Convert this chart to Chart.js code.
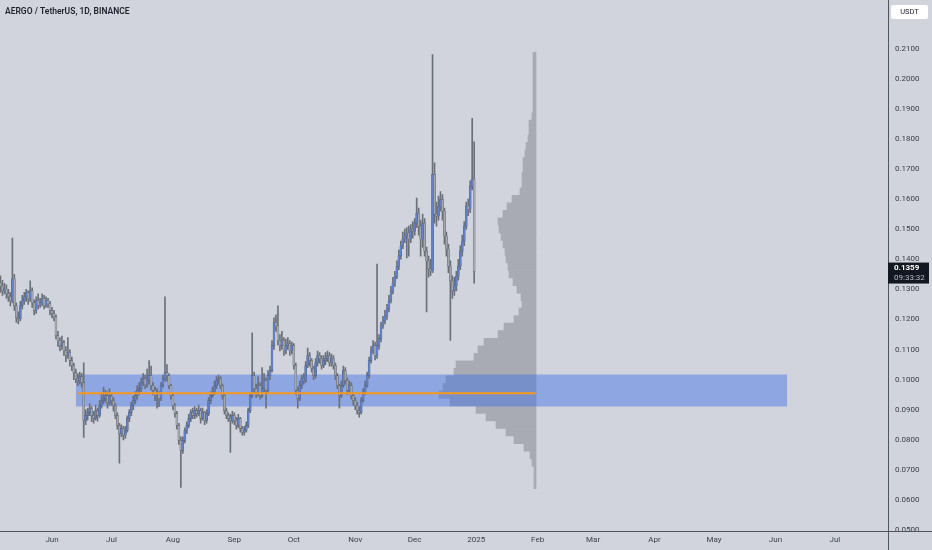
<!DOCTYPE html>
<html>
<head>
<meta charset="utf-8">
<script src="https://cdn.jsdelivr.net/npm/chart.js@4.4.1/dist/chart.umd.min.js"></script>
<style>
  html, body { margin: 0; padding: 0; background: #d1d4dc; }
  #wrap { width: 932px; height: 550px; }
</style>
</head>
<body>
<div id="wrap"><canvas id="myChart"></canvas></div>
<script>
// AERGO/USDT daily candles, first candle 2024-05-06
const startDate = '2024-05-06';
const firstOpen = 0.1320;
const closes = [
  .1311,.1295,.1301,.1285,.1275,.1262,.1335,.1245,.1205,.1202,
  .1245,.1262,.1275,.1288,.1268,.1295,.1255,.1229,.1262,.1248,
  .1255,.1268,.1245,.1262,.1252,.1229,.1219,.1209,.1146,.1129,
  .1113,.1123,.1096,.1080,.1090,.1063,.1047,.1023,.1003,.0997,
  .1010,.0990,.0864,.0881,.0891,.0904,.0881,.0871,.0897,.0881,
  .0914,.0930,.0937,.0947,.0924,.0944,.0930,.0914,.0881,.0848,
  .0821,.0838,.0815,.0831,.0871,.0891,.0914,.0930,.0947,.0964,
  .0970,.0990,.1003,.0983,.0997,.1013,.0980,.0964,.0947,.0954,
  .0937,.0980,.1003,.1023,.1013,.0980,.0947,.0914,.0887,.0848,
  .0798,.0765,.0798,.0831,.0848,.0871,.0891,.0881,.0897,.0887,
  .0897,.0871,.0891,.0864,.0887,.0930,.0947,.0957,.0980,.0997,
  .1003,.0980,.0947,.0897,.0881,.0871,.0864,.0881,.0864,.0848,
  .0871,.0838,.0825,.0831,.0848,.0897,.0947,.1013,.0970,.0957,
  .0980,.0947,.0970,.0997,.0964,.1013,.1030,.1113,.1189,.1179,
  .1129,.1113,.1129,.1096,.1113,.1119,.1096,.1113,.1047,.0964,
  .0937,.0980,.1003,.0997,.1047,.1080,.1063,.1037,.1013,.1056,
  .1080,.1070,.1047,.1063,.1070,.1080,.1056,.1070,.1047,.1013,
  .0980,.0947,.0980,.1030,.0997,.0964,.0980,.0947,.0930,.0914,
  .0897,.0891,.0930,.0957,.0980,.1013,.1063,.1096,.1113,.1080,
  .1113,.1136,.1179,.1195,.1212,.1235,.1262,.1295,.1321,.1344,
  .1377,.1411,.1444,.1467,.1477,.1487,.1467,.1500,.1493,.1520,
  .1553,.1510,.1467,.1520,.1427,.1394,.1368,.1361,.1682,.1550,
  .1543,.1576,.1599,.1560,.1477,.1434,.1377,.1328,.1295,.1311,
  .1344,.1377,.1427,.1460,.1510,.1576,.1566,.1642,.1666,.1359
];
const highs = [
  .1345,.1330,.1320,.1315,.1300,.1290,.1470,.1350,.1255,.1225,
  .1260,.1280,.1290,.1300,.1295,.1328,.1305,.1265,.1275,.1285,
  .1270,.1285,.1280,.1275,.1270,.1260,.1240,.1230,.1215,.1160,
  .1140,.1145,.1130,.1110,.1140,.1100,.1075,.1055,.1035,.1020,
  .1025,.1020,.1056,.0900,.0905,.0920,.0910,.0895,.0915,.0905,
  .0930,.0955,.0975,.0965,.0960,.0970,.0955,.0940,.0920,.0890,
  .0855,.0850,.0845,.0845,.0880,.0900,.0925,.0945,.0960,.0980,
  .0990,.1005,.1020,.1015,.1035,.1063,.1045,.0990,.0975,.0970,
  .0960,.0990,.1015,.1275,.1050,.1020,.0985,.0955,.0920,.0895,
  .0855,.0810,.0810,.0840,.0860,.0885,.0900,.0905,.0910,.0905,
  .0915,.0905,.0905,.0895,.0900,.0940,.0960,.0975,.0995,.1010,
  .1015,.1010,.0985,.0950,.0905,.0890,.0885,.0895,.0890,.0875,
  .0885,.0875,.0845,.0845,.0860,.0905,.0955,.1155,.1025,.0985,
  .1010,.0990,.1040,.1020,.1005,.1030,.1045,.1130,.1205,.1215,
  .1245,.1150,.1160,.1140,.1135,.1140,.1130,.1125,.1120,.1055,
  .0975,.0995,.1015,.1020,.1060,.1105,.1090,.1070,.1045,.1070,
  .1095,.1090,.1080,.1080,.1090,.1095,.1090,.1085,.1080,.1055,
  .1020,.0985,.0995,.1045,.1040,.1005,.0995,.0990,.0955,.0940,
  .0925,.0910,.0940,.0970,.0995,.1025,.1075,.1110,.1130,.1125,
  .1384,.1150,.1190,.1210,.1230,.1250,.1280,.1310,.1340,.1360,
  .1395,.1430,.1460,.1490,.1500,.1505,.1510,.1515,.1525,.1535,
  .1603,.1570,.1530,.1550,.1535,.1440,.1410,.1400,.2080,.1720,
  .1590,.1610,.1625,.1615,.1570,.1490,.1450,.1395,.1345,.1340,
  .1360,.1400,.1445,.1480,.1525,.1590,.1600,.1660,.1868,.1790
];
const lows = [
  .1290,.1280,.1285,.1270,.1260,.1245,.1255,.1230,.1190,.1185,
  .1195,.1235,.1250,.1260,.1250,.1260,.1240,.1215,.1220,.1235,
  .1240,.1245,.1235,.1240,.1240,.1215,.1205,.1195,.1135,.1110,
  .1095,.1100,.1080,.1060,.1070,.1045,.1030,.1000,.0990,.0980,
  .0985,.0975,.0808,.0850,.0865,.0880,.0860,.0855,.0865,.0862,
  .0875,.0905,.0920,.0925,.0905,.0915,.0915,.0895,.0870,.0835,
  .0722,.0810,.0800,.0805,.0825,.0860,.0880,.0900,.0920,.0935,
  .0950,.0960,.0980,.0970,.0975,.0985,.0965,.0950,.0930,.0905,
  .0910,.0930,.0975,.0995,.0995,.0970,.0935,.0900,.0875,.0835,
  .0785,.0642,.0755,.0790,.0820,.0840,.0860,.0870,.0870,.0875,
  .0880,.0855,.0865,.0850,.0855,.0880,.0920,.0940,.0950,.0970,
  .0985,.0970,.0935,.0885,.0870,.0860,.0758,.0855,.0850,.0835,
  .0840,.0825,.0815,.0815,.0825,.0840,.0890,.0940,.0955,.0940,
  .0945,.0935,.0940,.0960,.0905,.0955,.1000,.1025,.1100,.1160,
  .1115,.1095,.1100,.1080,.1085,.1100,.1080,.1085,.1035,.0950,
  .0905,.0930,.0970,.0985,.0990,.1040,.1045,.1025,.1000,.1005,
  .1045,.1055,.1035,.1040,.1050,.1060,.1045,.1045,.1035,.1000,
  .0970,.0905,.0940,.0975,.0985,.0950,.0955,.0935,.0915,.0900,
  .0885,.0875,.0885,.0925,.0950,.0975,.1005,.1055,.1085,.1065,
  .1070,.1100,.1125,.1170,.1185,.1200,.1225,.1255,.1285,.1310,
  .1335,.1365,.1400,.1435,.1455,.1404,.1410,.1455,.1470,.1480,
  .1505,.1480,.1410,.1440,.1410,.1225,.1340,.1345,.1355,.1520,
  .1510,.1530,.1560,.1530,.1450,.1410,.1355,.1130,.1270,.1280,
  .1295,.1330,.1365,.1410,.1445,.1500,.1545,.1555,.1630,.1320
];

// volume profile rows (price, relative volume)
const profilePrices = [
  .2075,.2050,.2025,.2000,.1975,.1950,.1925,.1900,.1875,.1850,
  .1825,.1800,.1775,.1750,.1725,.1700,.1675,.1650,.1625,.1600,
  .1575,.1550,.1525,.1500,.1475,.1450,.1425,.1400,.1375,.1350,
  .1325,.1300,.1275,.1250,.1225,.1200,.1175,.1150,.1125,.1100,
  .1075,.1050,.1025,.1000,.0975,.0950,.0925,.0900,.0875,.0850,
  .0825,.0800,.0775,.0750,.0725,.0700,.0675,.0650
];
const profileVolumes = [
  3,3,3,3,3,3,3,3,4,7,
  7,8,10,11,13,13,14,14,16,24,
  29,33,38,37,35,33,31,30,28,27,
  23,19,15,14,17,22,32,38,52,58,
  62,80,82,90,93,97,86,60,50,40,
  30,22,12,6,4,2,2,2
];

// drawings
const zoneTop = 0.1017;
const zoneBottom = 0.0911;
const zoneDates = ['2024-06-13', '2025-06-07'];
const pocPrice = 0.0955;
const pocDates = ['2024-06-14', '2025-01-31'];

// axes
const monthTicks = ['2024-06-01','2024-07-01','2024-08-01','2024-09-01','2024-10-01','2024-11-01','2024-12-01',
  '2025-01-01','2025-02-01','2025-03-01','2025-04-01','2025-05-01','2025-06-01','2025-07-01'];
const monthLabels = ['Jun','Jul','Aug','Sep','Oct','Nov','Dec','2025','Feb','Mar','Apr','May','Jun','Jul'];
const priceTicks = [0.05,0.06,0.07,0.08,0.09,0.10,0.11,0.12,0.13,0.14,0.15,0.16,0.17,0.18,0.19,0.20,0.21];
const countdown = '09:33:32';

const FONT = 'Roboto, "Noto Sans", sans-serif';
const origin = Date.parse('2024-05-05');
const dayIdx = s => (Date.parse(s) - origin) / 864e5;

const x0 = dayIdx(startDate);
const opens = [firstOpen].concat(closes.slice(0, -1));
const bodyData = closes.map((c, i) => ({ x: x0 + i, y: [opens[i], c] }));
const wickData = closes.map((c, i) => ({ x: x0 + i, y: [lows[i], highs[i]] }));
const bodyColors = closes.map((c, i) => c >= opens[i] ? '#5f82d0' : '#a4a7ae');

const overlay = {
  id: 'overlay',
  beforeDraw(chart) {
    const ctx = chart.ctx;
    ctx.save();
    ctx.fillStyle = '#d1d4dc';
    ctx.fillRect(0, 0, chart.width, chart.height);
    ctx.restore();
  },
  afterDraw(chart) {
    const { ctx, chartArea, scales } = chart;
    ctx.save();
    // axis separators
    ctx.strokeStyle = '#50545d';
    ctx.lineWidth = 1;
    ctx.beginPath();
    ctx.moveTo(0, chartArea.bottom + 0.5);
    ctx.lineTo(chart.width, chartArea.bottom + 0.5);
    ctx.moveTo(chartArea.right + 0.5, 0);
    ctx.lineTo(chartArea.right + 0.5, chart.height);
    ctx.stroke();

    // title
    ctx.fillStyle = '#1e222d';
    ctx.font = '600 8.5px ' + FONT;
    ctx.textBaseline = 'middle';
    ctx.textAlign = 'left';
    ctx.fillText('AERGO / TetherUS, 1D, BINANCE', 5, 12);

    // currency box
    ctx.fillStyle = '#ffffff';
    ctx.beginPath();
    ctx.roundRect(891, 5, 37, 14, 2);
    ctx.fill();
    ctx.fillStyle = '#1e222d';
    ctx.font = '7.5px ' + FONT;
    ctx.textAlign = 'center';
    ctx.fillText('USDT', 909.5, 12.5);

    // last price label
    const last = closes[closes.length - 1];
    const y = scales.y.getPixelForValue(last);
    ctx.fillStyle = '#131722';
    ctx.fillRect(chartArea.right, y - 9, 41, 21);
    ctx.textAlign = 'left';
    ctx.fillStyle = '#ffffff';
    ctx.font = 'bold 8px ' + FONT;
    ctx.fillText(last.toFixed(4), chartArea.right + 6, y - 3.5);
    ctx.fillStyle = '#b8bcc6';
    ctx.font = '8px ' + FONT;
    ctx.fillText(countdown, chartArea.right + 6, y + 6.5);
    ctx.restore();
  }
};

const ctx = document.getElementById('myChart').getContext('2d');
const myChart = new Chart(ctx, {
  type: 'bar',
  data: {
    datasets: [
      {
        type: 'bar',
        indexAxis: 'y',
        xAxisID: 'xv',
        yAxisID: 'yv',
        data: profilePrices.map((p, k) => ({ x: profileVolumes[k], y: p })),
        backgroundColor: '#a8abb3',
        barPercentage: 1,
        categoryPercentage: 1,
        grouped: false,
        order: 7
      },
      {
        type: 'line',
        data: [{ x: dayIdx(zoneDates[0]), y: zoneTop }, { x: dayIdx(zoneDates[1]), y: zoneTop }],
        borderColor: 'rgba(0,0,0,0)',
        pointRadius: 0,
        fill: false,
        order: 6
      },
      {
        type: 'line',
        data: [{ x: dayIdx(zoneDates[0]), y: zoneBottom }, { x: dayIdx(zoneDates[1]), y: zoneBottom }],
        borderColor: 'rgba(0,0,0,0)',
        backgroundColor: 'rgba(60,110,230,0.45)',
        pointRadius: 0,
        fill: '-1',
        order: 5
      },
      {
        type: 'bar',
        data: wickData,
        backgroundColor: '#6b707b',
        barThickness: 1,
        grouped: false,
        borderSkipped: false,
        order: 3
      },
      {
        type: 'bar',
        data: bodyData,
        backgroundColor: bodyColors,
        borderColor: '#555b67',
        borderWidth: 0.4,
        borderSkipped: false,
        barThickness: 2,
        grouped: false,
        order: 2
      },
      {
        type: 'line',
        data: [{ x: dayIdx(pocDates[0]), y: pocPrice }, { x: dayIdx(pocDates[1]), y: pocPrice }],
        borderColor: '#f7981d',
        borderWidth: 2,
        pointRadius: 0,
        fill: false,
        order: 1
      }
    ]
  },
  options: {
    responsive: true,
    maintainAspectRatio: false,
    animation: false,
    layout: { padding: 0 },
    plugins: { legend: { display: false }, tooltip: { enabled: false } },
    scales: {
      x: {
        type: 'linear',
        min: 0.76,
        max: 448.8,
        offset: false,
        grid: { display: false, drawTicks: false },
        border: { display: false },
        afterBuildTicks: s => { s.ticks = monthTicks.map(d => ({ value: dayIdx(d) })); },
        afterFit: s => { s.height = 19; },
        ticks: {
          autoSkip: false,
          maxRotation: 0,
          padding: 4,
          color: '#3a3e48',
          font: { size: 8, family: FONT },
          callback: (v, i) => monthLabels[i]
        }
      },
      xv: { type: 'linear', display: false, reverse: true, min: -352, max: 536, offset: false },
      y: {
        type: 'linear',
        position: 'right',
        min: 0.0497,
        max: 0.2222,
        grid: { display: false, drawTicks: false },
        border: { display: false },
        afterBuildTicks: s => { s.ticks = priceTicks.map(v => ({ value: v })); },
        afterFit: s => { s.width = 44; },
        ticks: {
          padding: 7,
          crossAlign: 'near',
          color: '#3a3e48',
          font: { size: 8, family: FONT },
          callback: v => v.toFixed(4)
        }
      },
      yv: { type: 'linear', display: false, min: 0.0497, max: 0.2222, offset: false }
    }
  },
  plugins: [overlay]
});
</script>
</body>
</html>
